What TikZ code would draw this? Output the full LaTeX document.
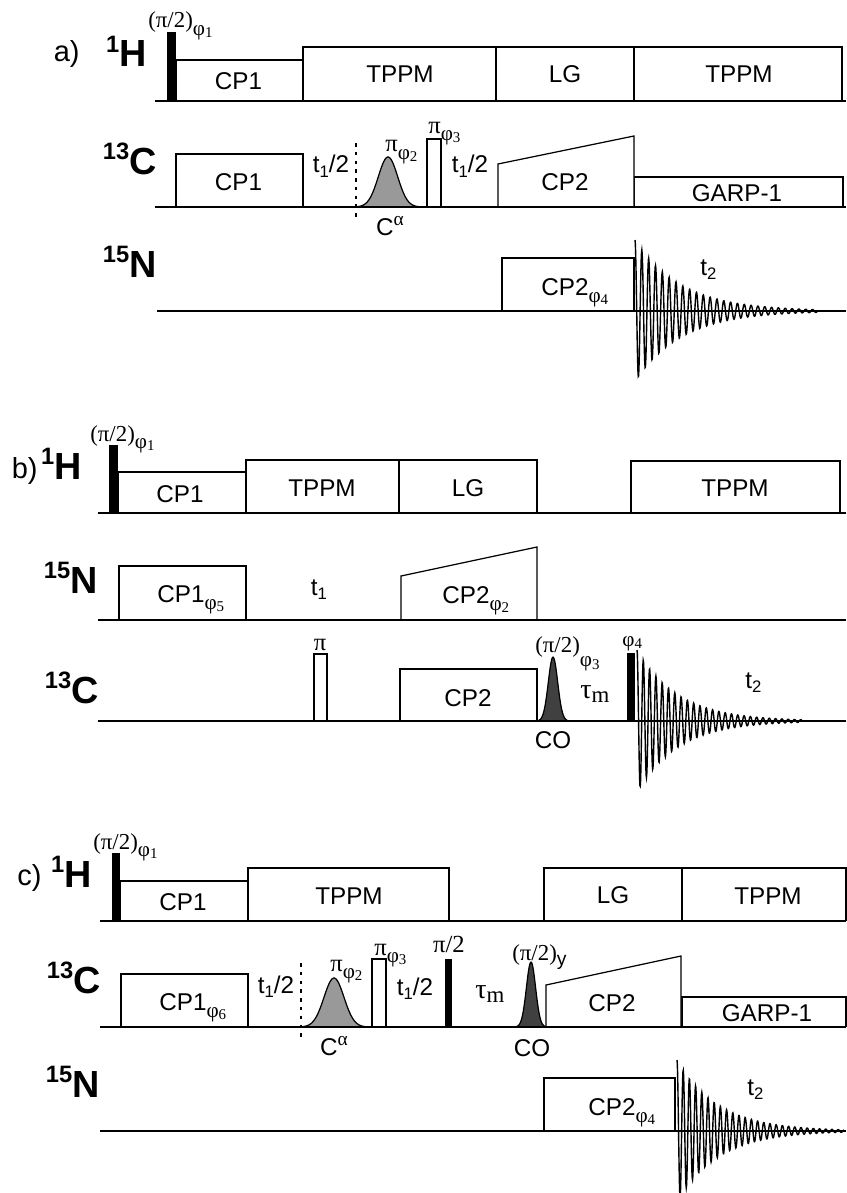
\documentclass[tikz,border=0pt]{standalone}
\usepackage{fontspec}
\setmainfont{Liberation Sans}
\newfontfamily\serifgreek{Liberation Serif}
\usetikzlibrary{positioning,calc}

% Text pieces
\newcommand{\phs}[2][4pt]{\raisebox{-#1}{{\serifgreek\fontsize{12}{12}\selectfont φ\raisebox{-1.5pt}{\fontsize{8.5}{8.5}\selectfont #2}}}}
\newcommand{\nucl}[2]{\raisebox{8.5pt}{\fontsize{13.5}{13.5}\selectfont #1}#2}
\newcommand{\tlab}[1]{t\raisebox{-2.5pt}{\fontsize{9.5}{9.5}\selectfont #1}}
\newcommand{\halfpi}{{\serifgreek\fontsize{13}{13}\selectfont (π/2)}}
\newcommand{\gpi}{{\serifgreek\fontsize{14}{14}\selectfont π}}
\newcommand{\taum}{{\serifgreek\fontsize{16}{16}\selectfont τ\raisebox{-2.5pt}{\fontsize{13}{13}\selectfont m}}}
\newcommand{\calpha}{C\raisebox{5.5pt}{{\serifgreek\fontsize{11}{11}\selectfont α}}}

% Shaped pulse: style, centre, baseline, height, sigma
\newcommand{\gausspulse}[5]{
  \filldraw[#1] plot[domain={#2-3.1*#5}:{#2+3.1*#5},samples=50,smooth]
    ({\x},{#3-#4*exp(-(\x-#2)*(\x-#2)/(2*#5*#5))});
}
% Free induction decay: start, baseline, end, period, decay
\newcommand{\fidsignal}[5]{
  \draw[fidline] plot[domain=#1:#3,samples=560]
    ({\x},{#2-71*exp(-(\x-#1)/#5)*cos((360/#4)*(\x-#1))});
}

\tikzset{
  lbl/.style={font=\fontsize{13.8}{15}\selectfont, inner sep=0pt},
  big/.style={font=\fontsize{21.5}{24}\selectfont\bfseries, inner sep=0pt, anchor=base east},
  tag/.style={font=\fontsize{16.5}{20}\selectfont, inner sep=0pt, anchor=base east},
  pulsebox/.style={draw=black, line width=0.7pt, fill=white, line join=miter},
  hardpulse/.style={fill=black, draw=none},
  baseline/.style={line width=1.1pt},
  fidline/.style={line width=0.8pt},
  calpha/.style={draw=black, line width=0.7pt, fill=black!40},
  cokappa/.style={draw=black, line width=0.7pt, fill=black!75},
  marker/.style={dash pattern=on 2pt off 3pt, line width=0.7pt}
}

\begin{document}
\begin{tikzpicture}[x=0.02cm,y=-0.02cm]
  \useasboundingbox (0,0) rectangle (846,1193);

  % Rectangular pulses
  \foreach \xa/\ya/\xb/\yb in {
      176/60/303/101, 303/47/496/101, 496/47/634/101, 634/47/842/101,
      176/154/303/207, 634/177/843/207, 502/258/634/311, 427/139/441/207,
      118/472/246/513, 246/460/399/513, 399/460/537/513, 631/461/840/513,
      119/566/246/620, 314/654/327/721, 400/669/537/721,
      120/881/248/921, 248/868/449/921, 544/868/682/921, 682/868/846/921,
      121/974/248/1027, 372/959/386/1027, 682/997/846/1027, 544/1078/675/1131} {
    \draw[pulsebox] (\xa,\yb) -- (\xa,\ya) -- (\xb,\ya) -- (\xb,\yb);
  }

  % Ramped CP pulses
  \foreach \xa/\ya/\xb/\yb/\yc in {498/164/634/136/207, 401/576/537/547/620, 546/985/681/956/1027} {
    \draw[pulsebox] (\xa,\yc) -- (\xa,\ya) -- (\xb,\yb) -- (\xb,\yc);
  }

  % Hard pulses
  \foreach \xa/\ya/\xb/\yb in {167/32/176/101, 109/445/118/513, 627/653/635/721,
      112/853/120/921, 445/959/452/1027} {
    \fill[hardpulse] (\xa,\ya) rectangle (\xb,\yb);
  }

  % Selective pulses
  \gausspulse{calpha}{388}{207}{50}{9.7}
  \gausspulse{cokappa}{553}{721}{64}{4.7}
  \gausspulse{calpha}{334}{1027}{49}{10}
  \gausspulse{cokappa}{531}{1027}{65}{4.6}

  % Channel baselines
  \foreach \xs/\yb in {155/101, 155/207, 157/311, 98/513, 98/620, 98/721, 100/921, 100/1027, 100/1131} {
    \draw[baseline] (\xs,\yb) -- (846,\yb);
  }

  % Evolution markers
  \draw[marker] (356,143) -- (356,222);
  \draw[marker] (301,963) -- (301,1042);

  % FIDs
  \fidsignal{635}{311}{817}{6.83}{46}
  \fidsignal{637}{721}{802}{6.3}{41}
  \fidsignal{677}{1131}{844}{6.2}{41}

  % Panel tags and channels
  \foreach \nm/\xc/\yc/\txt in {taga/80/62/a), tagb/38/478/b), tagc/42/885/c)} {
    \node[tag] (\nm) at (\xc,\yc) {\txt};
  }
  \foreach \nm/\xc/\yc/\txt in {
      hA/147/67/{\nucl{1}{H}}, cA/157/174/{\nucl{13}{C}}, nA/157/277/{\nucl{15}{N}},
      hB/82/479/{\nucl{1}{H}}, nB/98/593/{\nucl{15}{N}}, cB/99/703/{\nucl{13}{C}},
      hC/92/887/{\nucl{1}{H}}, cC/101/993/{\nucl{13}{C}}, nC/100/1097/{\nucl{15}{N}}} {
    \node[big] (\nm) at (\xc,\yc) {\txt};
  }

  % Labels centred on a point of their text line
  \foreach \nm/\xc/\yc/\txt in {
      cpHa/238.5/90/CP1, tpAa/400/83/TPPM, lgAa/565/83/LG, tpAb/739/83/TPPM,
      cpCa/238.5/190/CP1, t1Aa/331/173/{\tlab{1}/2}, t1Ab/470/173/{\tlab{1}/2},
      cpBa/565/190/CP2, garpa/737/201/GARP-1, caAa/390/235/{\calpha},
      cpHb/180/502/CP1, tpBa/322/496/TPPM, lgBa/468/496/LG, tpBb/735/496/TPPM,
      t1Bb/319/595/{\tlab{1}}, cpCb/468/706/CP2, coBb/553/748/CO, piBb/320/650/{\gpi},
      cpHc/183/910/CP1, tpCa/349/904/TPPM, lgCa/613/903/LG, tpCb/768/904/TPPM,
      t1Ca/276/993/{\tlab{1}/2}, t1Cb/415/995/{\tlab{1}/2}, caCc/334/1055/{\calpha},
      coCc/532/1056/CO, cpBc/612/1011/CP2, garpc/767/1021/GARP-1,
      pi2Cc/449/952/{\gpi\fontsize{14}{14}\selectfont\serifgreek /2}} {
    \node[lbl,anchor=base] (\nm) at (\xc,\yc) {\txt};
  }

  % Labels starting at a point
  \foreach \nm/\xc/\yc/\txt in {
      flipa/148/28/{\halfpi\phs{1}}, piAa/385/152/{\gpi\phs{2}}, piAb/428/133/{\gpi\phs{3}},
      cpNa/541/295/{CP2\phs{4}}, t2Aa/700/275/{\tlab{2}},
      flipb/90/441/{\halfpi\phs{1}}, cpNb/157/602/{CP1\phs{5}}, cpBb/442/603/{CP2\phs{2}},
      pi2Bb/535/652/{\halfpi\phs[8.5pt]{3}}, phiBb/622/646/{\phs[0pt]{4}},
      tmBb/580/698/{\taum}, t2Bb/745/688/{\tlab{2}},
      flipc/93/849/{\halfpi\phs{1}}, cpCc/159/1010/{CP1\phs{6}},
      piCa/330/971/{\gpi\phs{2}}, piCb/374/955/{\gpi\phs{3}}, tmCc/475/998/{\taum},
      pi2Cd/512/960/{\halfpi\raisebox{-3pt}{\fontsize{11}{11}\selectfont y}},
      cpNc/588/1115/{CP2\phs{4}}, t2Cc/747/1095/{\tlab{2}}} {
    \node[lbl,anchor=base west] (\nm) at (\xc,\yc) {\txt};
  }
\end{tikzpicture}
\end{document}
